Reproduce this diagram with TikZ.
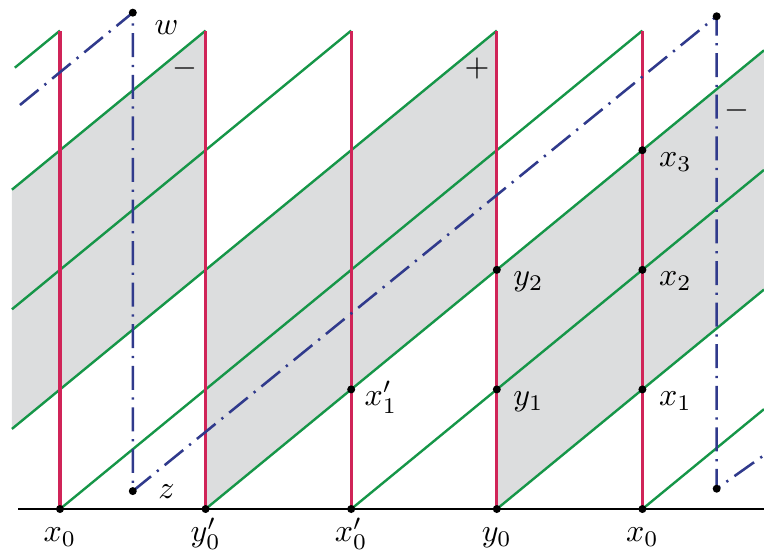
\documentclass[tikz,border=0pt]{standalone}
\usepackage{amsmath, amssymb}
\usepackage{tikz}
\definecolor{grline}{RGB}{22,150,72}
\definecolor{rdline}{RGB}{208,36,88}
\definecolor{dshline}{RGB}{48,58,140}
\definecolor{bandgray}{RGB}{220,221,222}
\tikzset{
  greenline/.style={draw=grline, line width=0.75pt},
  redline/.style={draw=rdline, line width=0.95pt},
  axisline/.style={draw=black, line width=0.85pt},
  flowline/.style={draw=dshline, line width=0.8pt, dash pattern=on 7.5pt off 2.4pt on 0.7pt off 2.4pt},
  grayband/.style={fill=bandgray, draw=none},
  ptdot/.style={circle, fill=black, inner sep=0pt, minimum size=2.5pt},
  ptlabel/.style={anchor=base west, inner sep=0pt, xshift=5pt, yshift=-5pt},
  baselabel/.style={anchor=base, inner sep=0pt, yshift=-10.3pt}
}

\begin{document}
\begin{tikzpicture}[x=1.6cm, y=1.3143cm]
      \useasboundingbox (-0.412,-0.376) rectangle (4.835,4.256);
      % shaded bands
      \fill[grayband] (-0.33,0.67) -- (1,2) -- (1,4) -- (-0.33,2.67) -- cycle;
      \fill[grayband] (1,0) -- (3,2) -- (3,4) -- (1,2) -- cycle;
      \fill[grayband] (3,0) -- (4.835,1.835) -- (4.835,3.835) -- (3,2) -- cycle;
      % points on the base and at the tops
      \coordinate (b0) at (0,0);
      \coordinate (b1) at (1,0);
      \coordinate (b2) at (2,0);
      \coordinate (b3) at (3,0);
      \coordinate (b4) at (4,0);
      \coordinate (t0) at (0,4);
      \coordinate (t1) at (1,4);
      \coordinate (t2) at (2,4);
      \coordinate (t3) at (3,4);
      \coordinate (t4) at (4,4);
      % green leaves
      \draw[greenline] (-0.31,3.69) -- (t0);
      \draw[greenline] (-0.33,2.67) -- (t1);
      \draw[greenline] (-0.33,1.67) -- (t2);
      \draw[greenline] (-0.33,0.67) -- (t3);
      \draw[greenline] (b0) -- (t4);
      \draw[greenline] (b1) -- (4.835,3.835);
      \draw[greenline] (b2) -- (4.835,2.835);
      \draw[greenline] (b3) -- (4.835,1.835);
      \draw[greenline] (b4) -- (4.835,0.835);
      % red cuts
      \draw[redline] (b0) -- (t0);
      \draw[redline] (b1) -- (t1);
      \draw[redline] (b2) -- (t2);
      \draw[redline] (b3) -- (t3);
      \draw[redline] (b4) -- (t4);
      \draw[axisline] (-0.288,0) -- (4.835,0);
      % dash-dotted path
      \coordinate (fl) at (-0.275,3.378);
      \coordinate (w) at (0.5,4.15);
      \coordinate (z) at (0.5,0.15);
      \coordinate (wr) at (4.51,4.12);
      \coordinate (zr) at (4.51,0.17);
      \coordinate (fr) at (4.835,0.45);
      \draw[flowline] (fl) -- (w) -- (z) -- (wr) -- (zr) -- (fr);
      % marked points
      \coordinate (x1p) at (2,1);
      \coordinate (y1) at (3,1);
      \coordinate (y2) at (3,2);
      \coordinate (x1) at (4,1);
      \coordinate (x2) at (4,2);
      \coordinate (x3) at (4,3);
      \node[ptdot] (wd) at (w) {};
      \node[ptdot] (zd) at (z) {};
      \node[ptdot] (wrd) at (wr) {};
      \node[ptdot] (zrd) at (zr) {};
      \node[ptdot] (b0d) at (b0) {};
      \node[ptdot] (b1d) at (b1) {};
      \node[ptdot] (b2d) at (b2) {};
      \node[ptdot] (b3d) at (b3) {};
      \node[ptdot] (b4d) at (b4) {};
      \node[ptdot] (x1pd) at (x1p) {};
      \node[ptdot] (y1d) at (y1) {};
      \node[ptdot] (y2d) at (y2) {};
      \node[ptdot] (x1d) at (x1) {};
      \node[ptdot] (x2d) at (x2) {};
      \node[ptdot] (x3d) at (x3) {};
      % labels
      \node[anchor=base west, inner sep=0pt, xshift=6.6pt, yshift=-6.9pt] (wlab) at (w) {$w$};
      \node[anchor=base west, inner sep=0pt, xshift=7.8pt, yshift=-2.2pt] (zlab) at (z) {$z$};
      \node[ptlabel, xshift=-1pt] (x1plab) at (x1p) {$x'_1$};
      \node[ptlabel] (y1lab) at (y1) {$y_1$};
      \node[ptlabel] (y2lab) at (y2) {$y_2$};
      \node[ptlabel] (x1lab) at (x1) {$x_1$};
      \node[ptlabel] (x2lab) at (x2) {$x_2$};
      \node[ptlabel] (x3lab) at (x3) {$x_3$};
      \node[baselabel] (b0lab) at (b0) {$x_0$};
      \node[baselabel] (b1lab) at (b1) {$y'_0$};
      \node[baselabel] (b2lab) at (b2) {$x'_0$};
      \node[baselabel] (b3lab) at (b3) {$y_0$};
      \node[baselabel] (b4lab) at (b4) {$x_0$};
      \node (minl) at (0.858,3.687) {$-$};
      \node (plus) at (2.864,3.687) {$+$};
      \node (minr) at (4.65,3.336) {$-$};
    \end{tikzpicture}
\end{document}
